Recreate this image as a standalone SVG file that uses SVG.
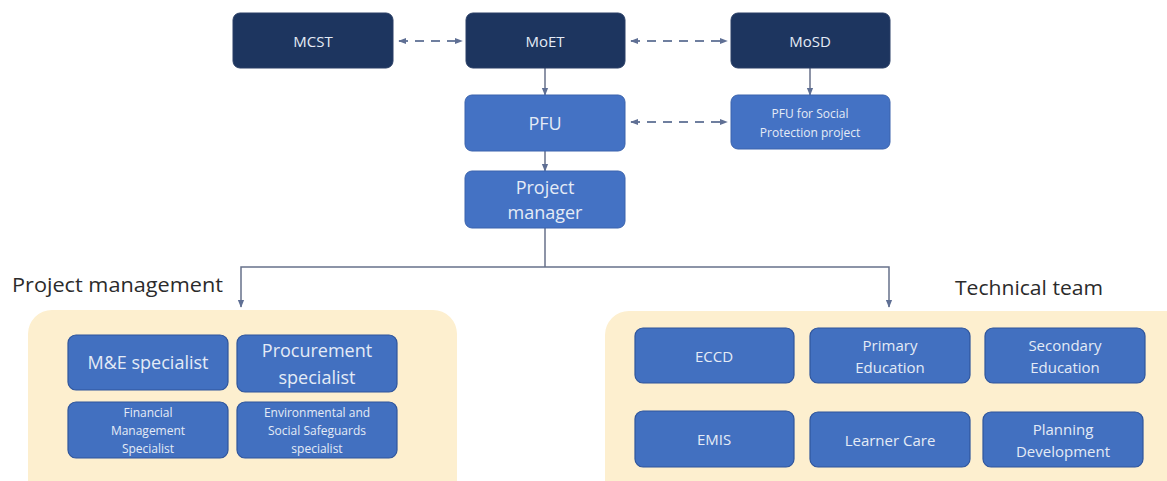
<svg xmlns="http://www.w3.org/2000/svg" width="1167" height="481" viewBox="0 0 1167 481">
<defs>
<style>
.dark{fill:#1d355f;stroke:#2a3f66;stroke-width:1}
.mid{fill:#4472c4;stroke:#3a63ad;stroke-width:1}
.inner{fill:#4270c0;stroke:#2f559c;stroke-width:1.2}
.tan{fill:#fdefcf}
.t{font-family:"Open Sans","Noto Sans",sans-serif;font-weight:500;fill:#e4ebf6;text-anchor:middle;dominant-baseline:central}
.lbl{font-family:"Open Sans","Noto Sans",sans-serif;font-weight:500;fill:#2b2b2b}
.conn{fill:none;stroke:#67718a;stroke-width:1.5}
.dash{fill:none;stroke:#6f7f9f;stroke-width:2.2;stroke-dasharray:9,7}
</style>
<marker id="ah" viewBox="0 0 10 10" refX="9" refY="5" markerWidth="8" markerHeight="8" orient="auto-start-reverse" markerUnits="userSpaceOnUse">
<path d="M0,1 L10,5 L0,9 Z" fill="#5f6f94"/>
</marker>
</defs>
<rect width="1167" height="481" fill="#ffffff"/>

<g id="group-project-management">
<rect class="tan" x="28" y="310" width="429" height="200" rx="24"/>
<text class="lbl" x="12" y="292" font-size="19.5" textLength="211" lengthAdjust="spacingAndGlyphs">Project management</text>
</g>
<g id="group-technical-team">
<rect class="tan" x="605" y="311" width="590" height="200" rx="24"/>
<text class="lbl" x="955" y="295" font-size="19.5" textLength="148" lengthAdjust="spacingAndGlyphs">Technical team</text>
</g>

<g id="connectors">
<line class="dash" x1="399" y1="41" x2="462" y2="41" marker-start="url(#ah)" marker-end="url(#ah)"/>
<line class="dash" x1="631" y1="41" x2="727" y2="41" marker-start="url(#ah)" marker-end="url(#ah)"/>
<line class="dash" x1="631" y1="122" x2="727" y2="122" marker-start="url(#ah)" marker-end="url(#ah)"/>
<line class="conn" x1="545" y1="68" x2="545" y2="95" marker-end="url(#ah)"/>
<line class="conn" x1="810" y1="68" x2="810" y2="95" marker-end="url(#ah)"/>
<line class="conn" x1="545" y1="151" x2="545" y2="171" marker-end="url(#ah)"/>
<path class="conn" d="M545,228 V267"/>
<path class="conn" d="M241,307 V267 H889 V307" marker-start="url(#ah)" marker-end="url(#ah)"/>
</g>

<g id="node-mcst"><rect class="dark" x="233" y="13" width="160" height="55" rx="7"/><text class="t" x="313" y="41" font-size="15">MCST</text></g>
<g id="node-moet"><rect class="dark" x="466" y="13" width="159" height="55" rx="7"/><text class="t" x="545" y="41" font-size="15">MoET</text></g>
<g id="node-mosd"><rect class="dark" x="731" y="13" width="159" height="55" rx="7"/><text class="t" x="810" y="41" font-size="15">MoSD</text></g>
<g id="node-pfu"><rect class="mid" x="465" y="95" width="160" height="56" rx="7"/><text class="t" x="545" y="123" font-size="18">PFU</text></g>
<g id="node-pfu-sp"><rect class="mid" x="731" y="95" width="159" height="54" rx="7"/><text class="t" x="810" y="122" font-size="12"><tspan x="810" dy="-9">PFU for Social</tspan><tspan x="810" dy="19">Protection project</tspan></text></g>
<g id="node-pm"><rect class="mid" x="465" y="171" width="160" height="57" rx="7"/><text class="t" x="545" y="199" font-size="18"><tspan x="545" dy="-12">Project</tspan><tspan x="545" dy="25">manager</tspan></text></g>

<g id="node-me"><rect class="inner" x="68" y="335" width="160" height="55" rx="8"/><text class="t" x="148" y="362" font-size="18">M&amp;E specialist</text></g>
<g id="node-procurement"><rect class="inner" x="237" y="335" width="160" height="57" rx="8"/><text class="t" x="317" y="363" font-size="18"><tspan x="317" dy="-13">Procurement</tspan><tspan x="317" dy="27">specialist</tspan></text></g>
<g id="node-financial"><rect class="inner" x="68" y="402" width="160" height="56" rx="8"/><text class="t" x="148" y="430" font-size="12"><tspan x="148" dy="-18">Financial</tspan><tspan x="148" dy="18">Management</tspan><tspan x="148" dy="18">Specialist</tspan></text></g>
<g id="node-environmental"><rect class="inner" x="237" y="402" width="160" height="56" rx="8"/><text class="t" x="317" y="430" font-size="12"><tspan x="317" dy="-18">Environmental and</tspan><tspan x="317" dy="18">Social Safeguards</tspan><tspan x="317" dy="18">specialist</tspan></text></g>

<g id="node-eccd"><rect class="inner" x="635" y="328" width="159" height="55" rx="8"/><text class="t" x="714" y="356" font-size="15">ECCD</text></g>
<g id="node-primary"><rect class="inner" x="810" y="328" width="160" height="55" rx="8"/><text class="t" x="890" y="356" font-size="15"><tspan x="890" dy="-11">Primary</tspan><tspan x="890" dy="22">Education</tspan></text></g>
<g id="node-secondary"><rect class="inner" x="985" y="328" width="160" height="55" rx="8"/><text class="t" x="1065" y="356" font-size="15"><tspan x="1065" dy="-11">Secondary</tspan><tspan x="1065" dy="22">Education</tspan></text></g>
<g id="node-emis"><rect class="inner" x="635" y="411" width="159" height="56" rx="8"/><text class="t" x="714" y="439" font-size="15">EMIS</text></g>
<g id="node-learner"><rect class="inner" x="810" y="412" width="160" height="55" rx="8"/><text class="t" x="890" y="440" font-size="15">Learner Care</text></g>
<g id="node-planning"><rect class="inner" x="983" y="412" width="160" height="55" rx="8"/><text class="t" x="1063" y="440" font-size="15"><tspan x="1063" dy="-11">Planning</tspan><tspan x="1063" dy="22">Development</tspan></text></g>
</svg>
